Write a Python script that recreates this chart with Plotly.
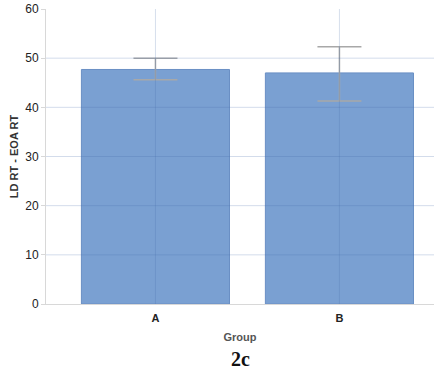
import plotly.graph_objects as go

groups = ["A", "B"]
means = [47.7, 47.0]
err_plus = [2.3, 5.3]
err_minus = [2.1, 5.7]
y_ticks = [0, 10, 20, 30, 40, 50, 60]

fig = go.Figure()
fig.add_trace(go.Bar(
    x=groups, y=means, width=0.805,
    marker=dict(color="#7aa0d2", line=dict(color="#6a8fc4", width=1)),
    error_y=dict(type="data", symmetric=False, array=err_plus, arrayminus=err_minus,
                 color="#a8a8a8", thickness=1.5, width=22),
))

# grid lines drawn above the bars, as in the reference
for v in y_ticks[1:-1]:
    fig.add_shape(type="line", xref="paper", x0=0, x1=1, yref="y", y0=v, y1=v,
                  line=dict(color="rgba(70,110,170,0.24)", width=1), layer="above")
for g in groups:
    fig.add_shape(type="line", xref="x", x0=g, x1=g, yref="paper", y0=0, y1=1,
                  line=dict(color="rgba(70,110,170,0.22)", width=1), layer="above")

fig.update_layout(
    width=435, height=371,
    margin=dict(l=46, r=1, t=9, b=67, autoexpand=False),
    paper_bgcolor="white", plot_bgcolor="white",
    showlegend=False,
    font=dict(family="Liberation Sans, Arial, sans-serif", color="#222"),
    xaxis=dict(
        range=[-0.595, 1.514], showgrid=False, zeroline=False, automargin=False,
        showline=True, linecolor="#d8d8d8", linewidth=1,
        tickfont=dict(size=11, family="Liberation Sans", color="#222"),
        ticklabelstandoff=4,
        title=dict(text="<b>Group</b>", font=dict(size=11, color="#555"), standoff=10),
        tickprefix="<b>", ticksuffix="</b>",
    ),
    yaxis=dict(
        range=[0, 60], tickvals=y_ticks, showgrid=False, zeroline=False, automargin=False,
        showline=True, linecolor="#d8d8d8", linewidth=1,
        ticks="outside", ticklen=4, tickcolor="#d8d8d8",
        tickfont=dict(size=12, color="#222"),
        tickprefix="<b>", ticksuffix="</b>",
        title=dict(text="<b>LD RT - EOA RT</b>", font=dict(size=11, color="#333"), standoff=4),
    ),
    annotations=[dict(text="<b>2c</b>", xref="paper", yref="paper", x=0.5, y=-0.186,
                      xanchor="center", yanchor="middle", showarrow=False,
                      font=dict(family="Liberation Serif, Times New Roman, serif", size=20, color="#111"))],
)

# remove the browser's default body margin so the figure fills the window exactly
fig.write_html("out.html", config={"displayModeBar": False},
               post_script="document.body.style.margin='0';")
